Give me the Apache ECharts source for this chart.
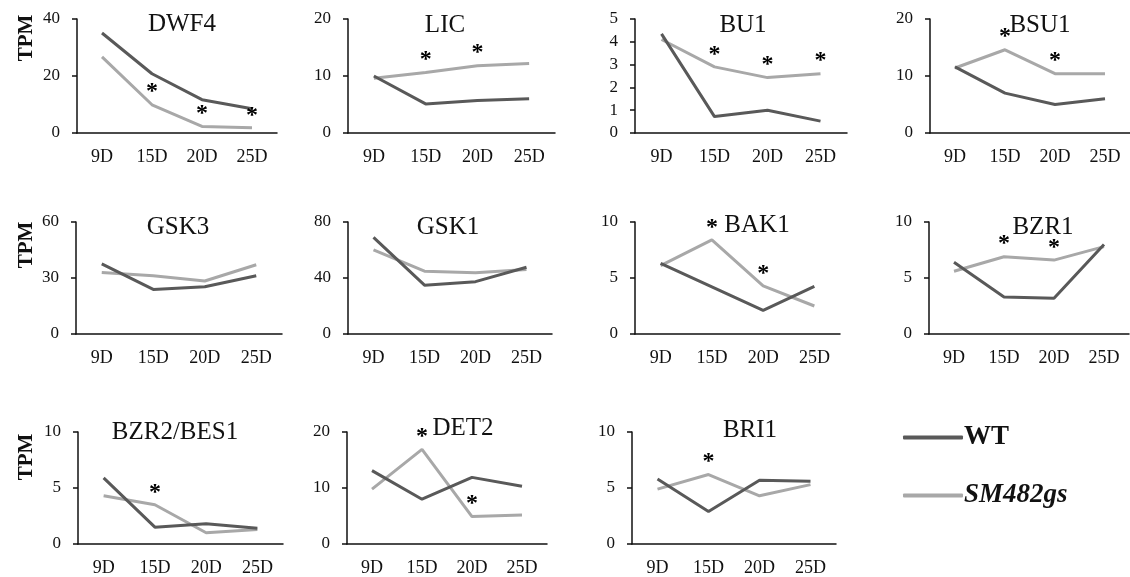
<!DOCTYPE html>
<html>
<head>
<meta charset="utf-8">
<script src="https://cdn.jsdelivr.net/npm/echarts@6/dist/echarts.min.js"></script>
<style>
	html, body { margin: 0; padding: 0; background: #fff; }
	#chart { width: 1130px; height: 577px; }
</style>
</head>
<body>
<div id="chart"></div>
<script>
var days = [ "9D", "15D", "20D", "25D" ];
var genes = [ "DWF4", "LIC", "BU1", "BSU1", "GSK3", "GSK1", "BAK1", "BZR1", "BZR2/BES1", "DET2", "BRI1" ];
var yMax = [ 40, 20, 5, 20, 60, 80, 10, 10, 10, 20, 10 ];
var yStep = [ 20, 10, 1, 10, 30, 40, 5, 5, 5, 10, 5 ];

// TPM values
var wtValues = [
	[ 35.1, 20.8, 11.7, 8.5 ],
	[ 10.0, 5.1, 5.7, 6.0 ],
	[ 4.35, 0.72, 1.0, 0.52 ],
	[ 11.6, 7.0, 5.0, 6.0 ],
	[ 37.6, 23.9, 25.3, 31.2 ],
	[ 69.0, 34.9, 37.4, 47.7 ],
	[ 6.3, 4.2, 2.1, 4.25 ],
	[ 6.4, 3.3, 3.2, 8.0 ],
	[ 5.9, 1.5, 1.8, 1.4 ],
	[ 13.1, 8.0, 11.9, 10.3 ],
	[ 5.8, 2.9, 5.7, 5.6 ]
];
var smValues = [
	[ 26.7, 9.9, 2.3, 1.8 ],
	[ 9.6, 10.6, 11.8, 12.2 ],
	[ 4.1, 2.9, 2.43, 2.6 ],
	[ 11.4, 14.6, 10.4, 10.4 ],
	[ 33.0, 31.2, 28.4, 37.1 ],
	[ 60.1, 44.9, 43.7, 46.1 ],
	[ 6.1, 8.4, 4.3, 2.5 ],
	[ 5.6, 6.9, 6.6, 7.8 ],
	[ 4.3, 3.5, 1.0, 1.3 ],
	[ 9.8, 16.9, 4.9, 5.2 ],
	[ 4.9, 6.2, 4.3, 5.3 ]
];
// day indexes marked with *
var significant = [ [ 1, 2, 3 ], [ 1, 2 ], [ 1, 2, 3 ], [ 1, 2 ], [], [], [ 1, 2 ], [ 1, 2 ], [ 1 ], [ 1, 2 ], [ 1 ] ];

// panel boxes: left, top, width, height
var boxes = [
	[ 77, 19, 200, 114 ], [ 348, 19, 207, 114 ], [ 635, 19, 212, 114 ], [ 930, 19, 200, 114 ],
	[ 76, 222, 206, 112 ], [ 348, 222, 204, 112 ], [ 635, 222, 205, 112 ], [ 929, 222, 200, 112 ],
	[ 78, 432, 205, 114 ], [ 347, 432, 200, 114 ], [ 632, 432, 204, 114 ]
];
var titlePos = [
	[ 182, 24 ], [ 445, 25 ], [ 743, 25 ], [ 1040, 25 ],
	[ 178, 227 ], [ 448, 227 ], [ 757, 225 ], [ 1043, 227 ],
	[ 175, 432 ], [ 463, 428 ], [ 750, 430 ]
];
var tpmPos = [ [ 27, 38 ], [ 27, 245 ], [ 27, 457 ] ];

var FONT = "'Liberation Serif', 'DejaVu Serif', serif";
var WT_COLOR = "#595959";
var SM_COLOR = "#a8a8a8";

var grids = [], xAxes = [], yAxes = [], series = [], graphics = [];

for (var i = 0; i < genes.length; i++) {
	var b = boxes[i];
	grids.push({ left : b[0], top : b[1], width : b[2], height : b[3], containLabel : false });
	xAxes.push({
		type : "category",
		gridIndex : i,
		data : days,
		boundaryGap : true,
		axisLine : { show : true, lineStyle : { color : "#111", width : 1.5 } },
		axisTick : { show : false },
		axisLabel : { interval : 0, fontFamily : FONT, fontSize : 18, color : "#111", margin : 15 },
		splitLine : { show : false }
	});
	yAxes.push({
		type : "value",
		gridIndex : i,
		min : 0,
		max : yMax[i],
		interval : yStep[i],
		axisLine : { show : true, lineStyle : { color : "#111", width : 1.5 } },
		axisTick : { show : true, inside : false, length : 5, lineStyle : { color : "#111", width : 1.5 } },
		axisLabel : { fontFamily : FONT, fontSize : 17, color : "#111", margin : 17 },
		splitLine : { show : false }
	});
	series.push({
		name : "WT",
		type : "line",
		xAxisIndex : i,
		yAxisIndex : i,
		data : wtValues[i],
		symbol : "none",
		lineStyle : { color : WT_COLOR, width : 3 },
		itemStyle : { color : WT_COLOR },
		z : 3
	});
	series.push({
		name : "SM482gs",
		type : "line",
		xAxisIndex : i,
		yAxisIndex : i,
		data : smValues[i],
		symbol : "none",
		lineStyle : { color : SM_COLOR, width : 3 },
		itemStyle : { color : SM_COLOR },
		z : 2
	});
	var stars = significant[i].map(function(d) {
		return [ d, smValues[i][d] ];
	});
	series.push({
		name : "sig",
		type : "scatter",
		xAxisIndex : i,
		yAxisIndex : i,
		data : stars,
		symbolSize : 1,
		itemStyle : { color : "#fff", opacity : 0 },
		label : {
			show : true,
			position : "top",
			distance : 0,
			formatter : "*",
			fontFamily : FONT,
			fontWeight : "bold",
			fontSize : 24,
			color : "#000",
			opacity : 1
		},
		emphasis : { disabled : true },
		silent : true,
		z : 4
	});
	graphics.push({
		type : "text",
		x : titlePos[i][0],
		y : titlePos[i][1],
		style : {
			text : genes[i],
			font : "25px " + FONT,
			fill : "#111",
			textAlign : "center",
			textVerticalAlign : "middle"
		}
	});
}

tpmPos.forEach(function(p) {
	graphics.push({
		type : "text",
		x : p[0],
		y : p[1],
		rotation : Math.PI / 2,
		style : {
			text : "TPM",
			font : "bold 21px " + FONT,
			fill : "#111",
			textAlign : "center",
			textVerticalAlign : "middle"
		}
	});
});

var chart = echarts.init(document.getElementById("chart"));
chart.setOption({
	backgroundColor : "#fff",
	animation : false,
	grid : grids,
	xAxis : xAxes,
	yAxis : yAxes,
	series : series,
	graphic : graphics,
	legend : {
		data : [ "WT", "SM482gs" ],
		orient : "vertical",
		left : 898,
		top : 419,
		itemWidth : 60,
		itemHeight : 4,
		itemGap : 31,
		icon : "roundRect",
		formatter : function(name) {
			return name === "WT" ? "{wt|WT}" : "{sm|SM482gs}";
		},
		textStyle : {
			padding : [ 0, 0, 0, -4 ],
			rich : {
				wt : { fontFamily : FONT, fontWeight : "bold", fontSize : 27, color : "#111" },
				sm : { fontFamily : FONT, fontWeight : "bold", fontStyle : "italic", fontSize : 27, color : "#111" }
			}
		}
	}
});
</script>
</body>
</html>
